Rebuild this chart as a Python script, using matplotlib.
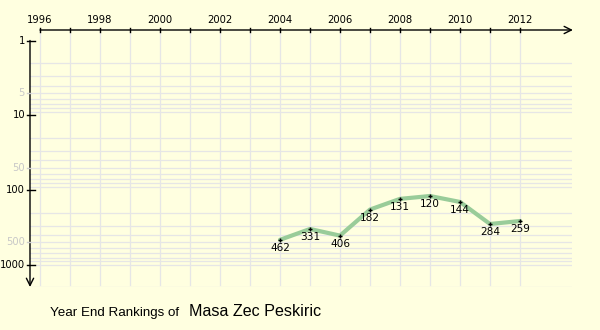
import matplotlib
matplotlib.use("Agg")
import matplotlib.pyplot as plt
import numpy as np

# year-end rankings
years = [2004, 2005, 2006, 2007, 2008, 2009, 2010, 2011, 2012]
ranks = [462, 331, 406, 182, 131, 120, 144, 284, 259]

year_ticks = list(range(1996, 2013))
year_labels = [str(y) if y % 2 == 0 else "" for y in year_ticks]
major_ranks = [1, 10, 100, 1000]
minor_ranks = [5, 50, 500]

player = "Masa Zec Peskiric"

bg = "#ffffe0"
grid_c = "#e6e6e6"
line_c = "#99cc99"

W, H = 600, 330
fig = plt.figure(figsize=(6, 3.3), dpi=100, facecolor=bg)


def px(x, y):
    # pixel (from top-left) -> figure fraction
    return x / W, 1 - y / H


# axes box in pixels: x 30..572, y 30..287
ax = fig.add_axes([30 / W, 1 - 287 / H, 542 / W, 257 / H])
ax.set_facecolor(bg)
ax.set_yscale("log")
x0 = 1996 - 10 / 30
x1 = 1996 + 532 / 30
ax.set_xlim(x0, x1)
ylo = 10 ** ((30 - 40.5) / 74.8)
yhi = 10 ** ((287 - 40.5) / 74.8)
ax.set_ylim(yhi, ylo)
for s in ax.spines.values():
    s.set_visible(False)
ax.set_xticks([])
ax.set_yticks([])
ax.minorticks_off()

# grid
grid_vals = [m * 10 ** k for k in range(0, 4) for m in range(2, 10)] + [1000]
for v in grid_vals:
    ax.plot([x0, x1], [v, v], color=grid_c, lw=0.9, zorder=1)
for yv in year_ticks:
    ax.plot([yv, yv], [ylo, 10 ** ((285 - 40.5) / 74.8)], color=grid_c, lw=0.9, zorder=1)

# x axis (top) with arrow
ax.annotate("", xy=(x1 + 0.03, ylo * 1.0), xytext=(1996, ylo),
            arrowprops=dict(arrowstyle="->", color="black", lw=1.0,
                            shrinkA=0, shrinkB=0, mutation_scale=13),
            annotation_clip=False, zorder=5)
# y axis (left) with arrow
ax.annotate("", xy=(x0, yhi), xytext=(x0, 1),
            arrowprops=dict(arrowstyle="->", color="black", lw=1.0,
                            shrinkA=0, shrinkB=0, mutation_scale=13),
            annotation_clip=False, zorder=5)

# x ticks and labels
for yv, lab in zip(year_ticks, year_labels):
    ax.plot([yv, yv], [ylo * 10 ** (-2 / 74.8), ylo * 10 ** (2 / 74.8)],
            color="black", lw=1.0, clip_on=False, zorder=5)
    if lab:
        ax.text(yv, ylo * 10 ** (-5 / 74.8), lab, ha="center", va="bottom",
                fontsize=7.2, color="black", clip_on=False)

# y ticks and labels
dx = 1 / 30
for v in major_ranks:
    ax.plot([x0 - 3 * dx, x0 + 5 * dx], [v, v], color="black", lw=1.0,
            clip_on=False, zorder=5)
    ax.text(x0 - 5 * dx, v, str(v), ha="right", va="center", fontsize=7.2,
            color="black", clip_on=False)
for v in minor_ranks:
    ax.plot([x0 - 3 * dx, x0], [v, v], color="#cccccc", lw=1.0,
            clip_on=False, zorder=5)
    ax.text(x0 - 5 * dx, v, str(v), ha="right", va="center", fontsize=7.2,
            color="#c8c8c8", clip_on=False)

# ranking line
ax.plot(years, ranks, color=line_c, lw=3.0, solid_capstyle="round",
        solid_joinstyle="round", zorder=3)
ax.plot(years, ranks, linestyle="none", marker="+", color="black",
        markersize=3.5, markeredgewidth=1.0, zorder=4)
for yv, r in zip(years, ranks):
    ax.text(yv, r * 10 ** (3 / 74.8), str(r), ha="center", va="top",
            fontsize=7.6, color="black", zorder=6)

# title
fx, fy = px(50, 316)
fig.text(fx, fy, "Year End Rankings of", fontsize=9.6, family="Liberation Sans",
         ha="left", va="baseline")
fx, fy = px(189, 316)
fig.text(fx, fy, player, fontsize=11.6, family="Liberation Sans",
         ha="left", va="baseline")

fig.savefig("out.png", dpi=100, facecolor=bg)
